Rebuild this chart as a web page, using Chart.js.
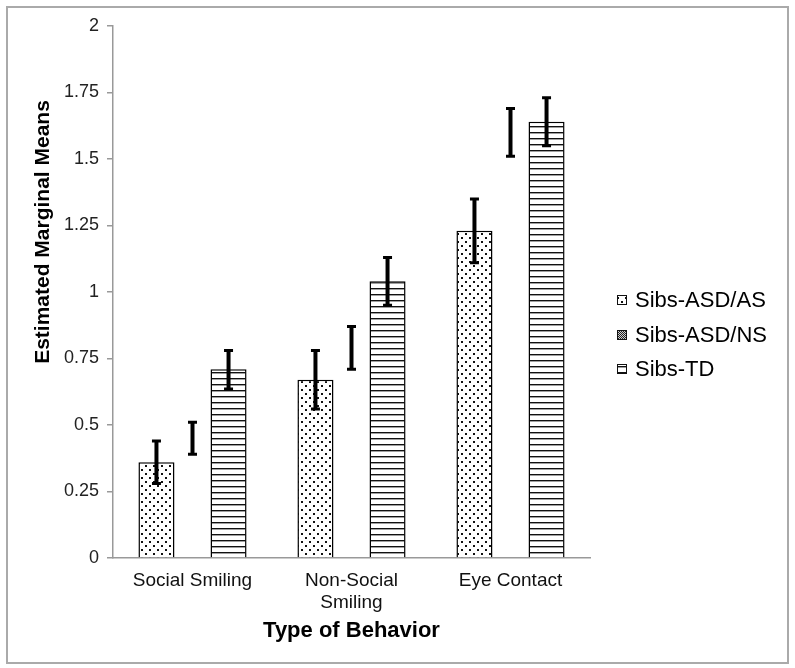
<!DOCTYPE html>
<html>
<head>
<meta charset="utf-8">
<script src="https://cdn.jsdelivr.net/npm/chart.js@4/dist/chart.umd.min.js"></script>
<style>
  body { margin: 0; background: #fff; }
  #wrap { position: relative; width: 795px; height: 668px; }
  #frame { position: absolute; left: 6px; top: 6px; width: 779px; height: 654px; border: 2px solid #aaa; pointer-events: none; }
</style>
</head>
<body>
<div id="wrap">
  <canvas id="behaviorChart" width="795" height="668"></canvas>
  <div id="frame"></div>
</div>
<script>
const categories = ['Social Smiling', ['Non-Social', 'Smiling'], 'Eye Contact'];
const seriesNames = ['Sibs-ASD/AS', 'Sibs-ASD/NS', 'Sibs-TD'];

const asMeans = [0.36, 0.67, 1.23];
const asLow = [0.28, 0.56, 1.11];
const asHigh = [0.44, 0.78, 1.35];

// middle group: bars are not visible in the figure, only the error bars
const nsMeans = [0.45, 0.79, 1.60];
const nsLow = [0.39, 0.71, 1.51];
const nsHigh = [0.51, 0.87, 1.69];

const tdMeans = [0.71, 1.04, 1.64];
const tdLow = [0.635, 0.95, 1.55];
const tdHigh = [0.78, 1.13, 1.73];

const yTicks = [0, 0.25, 0.5, 0.75, 1, 1.25, 1.5, 1.75, 2];
const yTickLabels = ['0', '0.25', '0.5', '0.75', '1', '1.25', '1.5', '1.75', '2'];

const FONT = '"Liberation Sans", Arial, sans-serif';

const ctx = document.getElementById('behaviorChart').getContext('2d');

const dotPattern = ctx.createPattern((function () {
    const c = document.createElement('canvas');
    c.width = 8; c.height = 8;
    const g = c.getContext('2d');
    g.fillStyle = '#fff'; g.fillRect(0, 0, 8, 8);
    g.fillStyle = '#111';
    g.fillRect(1, 1, 2, 2);
    g.fillRect(5, 5, 2, 2);
    return c;
})(), 'repeat');

const linePattern = ctx.createPattern((function () {
    const c = document.createElement('canvas');
    c.width = 6; c.height = 6;
    const g = c.getContext('2d');
    g.fillStyle = '#fff'; g.fillRect(0, 0, 6, 6);
    g.fillStyle = '#111';
    g.fillRect(0, 0, 6, 1.4);
    return c;
})(), 'repeat');

const checkPattern = ctx.createPattern((function () {
    const c = document.createElement('canvas');
    c.width = 2; c.height = 2;
    const g = c.getContext('2d');
    g.fillStyle = '#ccc'; g.fillRect(0, 0, 2, 2);
    g.fillStyle = '#222';
    g.fillRect(0, 0, 1, 1);
    g.fillRect(1, 1, 1, 1);
    return c;
})(), 'repeat');

const lows = [asLow, nsLow, tdLow];
const highs = [asHigh, nsHigh, tdHigh];
const legendFills = [dotPattern, checkPattern, linePattern];

const errorBars = {
    id: 'errorBars',
    afterDatasetsDraw(chart) {
        const c = chart.ctx;
        const y = chart.scales.y;
        c.save();
        c.strokeStyle = '#000';
        c.lineCap = 'butt';
        chart.data.datasets.forEach((ds, i) => {
            const meta = chart.getDatasetMeta(i);
            meta.data.forEach((bar, j) => {
                const x = bar.x;
                const yl = y.getPixelForValue(lows[i][j]);
                const yh = y.getPixelForValue(highs[i][j]);
                c.lineWidth = 4;
                c.beginPath();
                c.moveTo(x, yl); c.lineTo(x, yh);
                c.stroke();
                c.lineWidth = 3;
                c.beginPath();
                c.moveTo(x - 4.5, yl); c.lineTo(x + 4.5, yl);
                c.moveTo(x - 4.5, yh); c.lineTo(x + 4.5, yh);
                c.stroke();
            });
        });
        c.restore();
    }
};

const sideText = {
    id: 'sideText',
    afterDraw(chart) {
        const c = chart.ctx;
        c.save();
        // y axis title
        c.fillStyle = '#000';
        c.font = 'bold 21px ' + FONT;
        c.textAlign = 'center';
        c.textBaseline = 'middle';
        c.translate(43, 232);
        c.rotate(-Math.PI / 2);
        c.fillText('Estimated Marginal Means', 0, 0);
        c.restore();

        // legend
        c.save();
        c.font = '22px ' + FONT;
        c.textBaseline = 'middle';
        c.textAlign = 'left';
        const ys = [300, 335, 369];
        seriesNames.forEach((name, i) => {
            c.fillStyle = legendFills[i];
            c.fillRect(617, ys[i] - 5, 10, 10);
            c.strokeStyle = '#111';
            c.lineWidth = 1;
            c.strokeRect(617.5, ys[i] - 4.5, 9, 9);
            c.fillStyle = '#000';
            c.fillText(name, 635, ys[i] + 1);
        });
        c.restore();
    }
};

new Chart(ctx, {
    type: 'bar',
    data: {
        labels: categories,
        datasets: [
            {
                label: seriesNames[0],
                data: asMeans,
                backgroundColor: dotPattern,
                borderColor: '#000',
                borderWidth: 1.5
            },
            {
                label: seriesNames[1],
                data: nsMeans,
                backgroundColor: 'rgba(0,0,0,0)',
                borderColor: 'rgba(0,0,0,0)',
                borderWidth: 0
            },
            {
                label: seriesNames[2],
                data: tdMeans,
                backgroundColor: linePattern,
                borderColor: '#000',
                borderWidth: 1.5
            }
        ]
    },
    options: {
        responsive: false,
        animation: false,
        layout: { padding: { left: 0, right: 205, top: 26, bottom: 0 } },
        categoryPercentage: 0.68,
        barPercentage: 1.0,
        scales: {
            x: {
                grid: { display: false },
                border: { display: true, color: '#999', width: 1.5 },
                ticks: {
                    color: '#111',
                    font: { family: FONT, size: 19 },
                    padding: 3,
                    maxRotation: 0,
                    autoSkip: false
                },
                title: {
                    display: true,
                    text: 'Type of Behavior',
                    color: '#000',
                    font: { family: FONT, size: 22, weight: 'bold' },
                    padding: { top: 4, bottom: 24 }
                },
                afterFit(scale) { scale.height = 110; }
            },
            y: {
                min: 0,
                max: 2,
                afterBuildTicks(scale) { scale.ticks = yTicks.map(v => ({ value: v })); },
                grid: { drawOnChartArea: false, tickLength: 6, color: '#999', lineWidth: 1.5 },
                border: { display: true, color: '#999', width: 1.5 },
                ticks: {
                    color: '#222',
                    font: { family: FONT, size: 18 },
                    padding: 8,
                    callback: (v, i) => yTickLabels[i]
                },
                afterFit(scale) { scale.width = 113; }
            }
        },
        plugins: {
            legend: { display: false },
            tooltip: { enabled: false }
        }
    },
    plugins: [errorBars, sideText]
});
</script>
</body>
</html>
